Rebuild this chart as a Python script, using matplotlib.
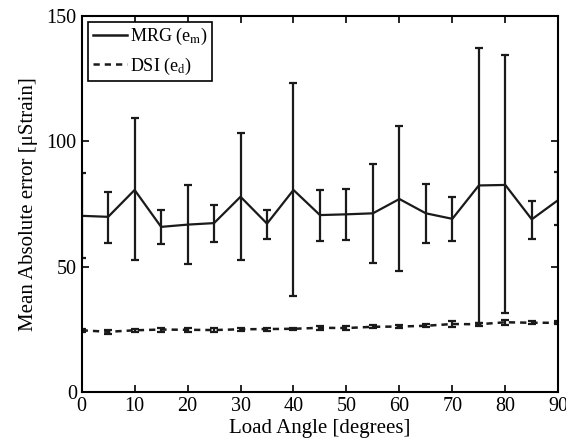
#!/usr/bin/env python
# Mean absolute error vs load angle, MRG vs DSI
import matplotlib
matplotlib.use('Agg')
import matplotlib.pyplot as plt
from matplotlib.lines import Line2D

angles = [0, 5, 10, 15, 20, 25, 30, 35, 40, 45, 50, 55, 60, 65, 70, 75, 80, 85, 90]

mrg_mean = [70.2, 69.8, 80.5, 65.8, 66.7, 67.3, 77.8, 67.1, 80.5, 70.5,
            70.8, 71.2, 76.9, 71.2, 69.0, 82.3, 82.5, 68.8, 76.5]
mrg_upper = [87.3, 79.7, 109.0, 72.5, 82.5, 74.5, 103.3, 72.5, 123.0, 80.5,
             80.9, 90.7, 105.9, 82.8, 77.7, 137.0, 134.1, 76.1, 87.6]
mrg_lower = [53.3, 59.5, 52.7, 59.1, 51.1, 59.8, 52.7, 61.1, 38.4, 60.2,
             60.4, 51.5, 48.1, 59.4, 60.2, 27.6, 31.4, 61.0, 66.5]

dsi_mean = [24.6, 24.0, 24.6, 24.9, 24.8, 24.7, 25.0, 25.1, 25.2, 25.6,
            25.5, 26.0, 26.1, 26.4, 27.1, 27.0, 27.8, 27.6, 27.6]
dsi_err = [0.5, 0.7, 0.5, 0.8, 0.8, 0.8, 0.5, 0.6, 0.5, 0.7,
           0.8, 0.6, 0.6, 0.6, 1.2, 0.6, 1.0, 0.6, 0.6]

plt.rcParams['font.family'] = ['Liberation Serif', 'DejaVu Serif']
plt.rcParams['mathtext.fontset'] = 'stix'
plt.rcParams['font.size'] = 15

fig = plt.figure(figsize=(5.66, 4.43), dpi=100)
ax = fig.add_axes([0.1443, 0.115, 0.842, 0.85])

col = '#1a1a1a'
yerr_m = [[m - lo for m, lo in zip(mrg_mean, mrg_lower)],
          [hi - m for m, hi in zip(mrg_mean, mrg_upper)]]
ax.errorbar(angles, mrg_mean, yerr=yerr_m, color=col, lw=1.6,
            elinewidth=1.6, capsize=3.2, capthick=1.6)
ax.errorbar(angles, dsi_mean, yerr=dsi_err, color=col, lw=1.8,
            dashes=(2.5, 2), elinewidth=1.6, capsize=3.2, capthick=1.6)

ax.set_xlim(0, 90)
ax.set_ylim(0, 150)
ax.set_xticks(range(0, 91, 10))
ax.set_yticks([0, 50, 100, 150])
ax.tick_params(direction='in', top=True, right=True, length=5, width=1.2,
               labelsize=14.5)
for s in ax.spines.values():
    s.set_linewidth(1.5)
ax.set_xlabel('Load Angle [degrees]', labelpad=2)
ax.set_ylabel('Mean Absolute error [\u03bcStrain]', labelpad=6)

handles = [Line2D([], [], color=col, lw=1.8),
           Line2D([], [], color=col, lw=1.8, dashes=(2.5, 2))]
labels = [r'MRG (e$_\mathrm{m}$)', r'DSI (e$_\mathrm{d}$)']
leg = ax.legend(handles, labels, loc='upper left', handlelength=1.9,
                handletextpad=0.15, borderaxespad=0.35, borderpad=0.25,
                labelspacing=0.45, fancybox=False, framealpha=1,
                edgecolor='black', fontsize=13)
leg.get_frame().set_linewidth(1.2)

fig.savefig('out.png', dpi=100)
